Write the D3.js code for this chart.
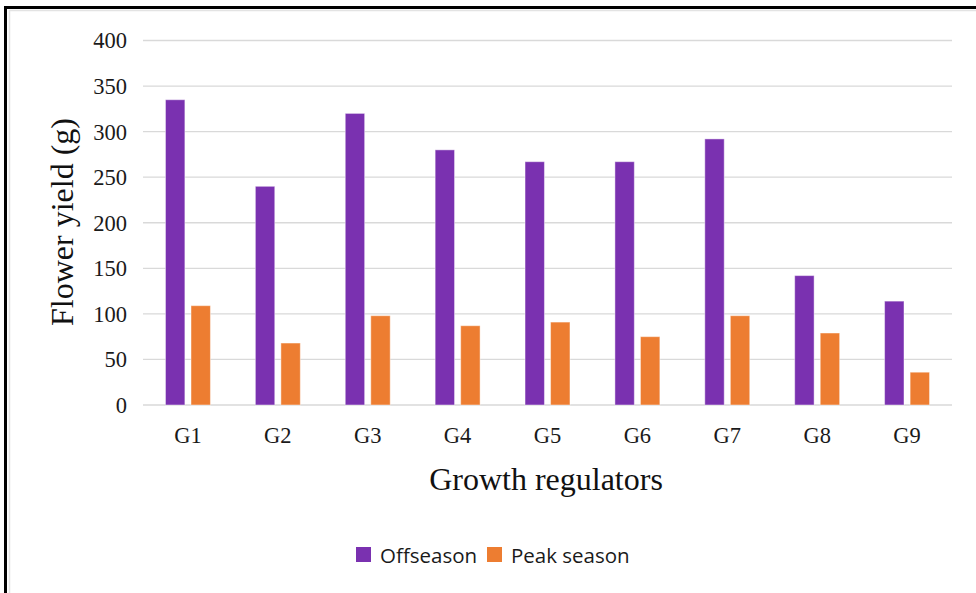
<!DOCTYPE html>
<html>
<head>
<meta charset="utf-8">
<script src="https://cdn.jsdelivr.net/npm/d3@7"></script>
<style>
    html, body { margin: 0; padding: 0; background: #fff; overflow: hidden; }
    svg { display: block; }
</style>
</head>
<body>
<div id="container"></div>
<script>
const categories = ["G1", "G2", "G3", "G4", "G5", "G6", "G7", "G8", "G9"];
const seriesNames = ["Offseason", "Peak season"];
const offseason = [335, 240, 320, 280, 267, 267, 292, 142, 114];
const peakSeason = [109, 68, 98, 87, 91, 75, 98, 79, 36];
const yTicks = [0, 50, 100, 150, 200, 250, 300, 350, 400];
const colors = ["#7a31b0", "#ed7d31"];

const width = 976, height = 593;
const margin = { left: 143, right: 24, top: 40.5, bottom: 188 };

const svg = d3.select("#container")
    .append("svg")
    .attr("width", width)
    .attr("height", height);

// frame (black border on left and top, light inner line)
svg.append("rect")
    .attr("x", 5.5).attr("y", 7.5)
    .attr("width", width + 20).attr("height", height + 20)
    .attr("fill", "none")
    .attr("stroke", "#000")
    .attr("stroke-width", 3);
svg.append("rect")
    .attr("x", 9.5).attr("y", 10.5)
    .attr("width", width + 20).attr("height", height + 20)
    .attr("fill", "none")
    .attr("stroke", "#e3e3e3")
    .attr("stroke-width", 1.5);

const x0 = d3.scaleBand()
    .domain(categories)
    .range([margin.left, width - margin.right])
    .paddingInner(0.5)
    .paddingOuter(0.25);

const x1 = d3.scaleBand()
    .domain(seriesNames)
    .range([0, x0.bandwidth()])
    .paddingInner(0.24);

const y = d3.scaleLinear()
    .domain([0, 400])
    .range([height - margin.bottom, margin.top]);

// gridlines
svg.append("g")
    .selectAll("line")
    .data(yTicks)
    .join("line")
    .attr("x1", margin.left)
    .attr("x2", width - margin.right)
    .attr("y1", d => y(d))
    .attr("y2", d => y(d))
    .attr("stroke", "#d9d9d9")
    .attr("stroke-width", 1.3);

const serif = "'Liberation Serif', 'Times New Roman', serif";

// y tick labels
svg.append("g")
    .selectAll("text")
    .data(yTicks)
    .join("text")
    .attr("x", 127)
    .attr("y", d => y(d))
    .attr("dy", "0.35em")
    .attr("text-anchor", "end")
    .style("font-family", serif)
    .style("font-size", "22.5px")
    .style("fill", "#1a1a1a")
    .text(d => d);

// bars
const rows = categories.map((c, i) => ({ cat: c, values: [offseason[i], peakSeason[i]] }));

const groups = svg.append("g")
    .selectAll("g")
    .data(rows)
    .join("g")
    .attr("transform", d => `translate(${x0(d.cat)},0)`);

groups.selectAll("rect")
    .data(d => d.values.map((v, i) => ({ key: seriesNames[i], value: v, i })))
    .join("rect")
    .attr("x", d => x1(d.key))
    .attr("y", d => y(d.value))
    .attr("width", x1.bandwidth())
    .attr("height", d => y(0) - y(d.value))
    .attr("fill", d => colors[d.i])
    .attr("stroke", "rgba(255,255,255,0.45)")
    .attr("stroke-width", 1);

// x labels
svg.append("g")
    .selectAll("text")
    .data(categories)
    .join("text")
    .attr("x", d => x0(d) + x0.bandwidth() / 2)
    .attr("y", 443)
    .attr("text-anchor", "middle")
    .style("font-family", serif)
    .style("font-size", "22.5px")
    .style("fill", "#1a1a1a")
    .text(d => d);

// axis titles
svg.append("text")
    .attr("x", 546)
    .attr("y", 490)
    .attr("text-anchor", "middle")
    .style("font-family", serif)
    .style("font-size", "32px")
    .style("fill", "#111")
    .text("Growth regulators");

svg.append("text")
    .attr("transform", "translate(73,222) rotate(-90)")
    .attr("text-anchor", "middle")
    .style("font-family", serif)
    .style("font-size", "32px")
    .style("fill", "#111")
    .text("Flower yield (g)");

// legend
const legendItems = [
    { name: seriesNames[0], color: colors[0], x: 356 },
    { name: seriesNames[1], color: colors[1], x: 487 }
];
const legend = svg.append("g")
    .selectAll("g")
    .data(legendItems)
    .join("g")
    .attr("transform", d => `translate(${d.x},547)`);

legend.append("rect")
    .attr("width", 15)
    .attr("height", 15)
    .attr("fill", d => d.color);

legend.append("text")
    .attr("x", 24)
    .attr("y", 15.5)
    .style("font-family", "'Open Sans', sans-serif")
    .style("font-size", "20.5px")
    .style("fill", "#1a1a1a")
    .text(d => d.name);
</script>
</body>
</html>
